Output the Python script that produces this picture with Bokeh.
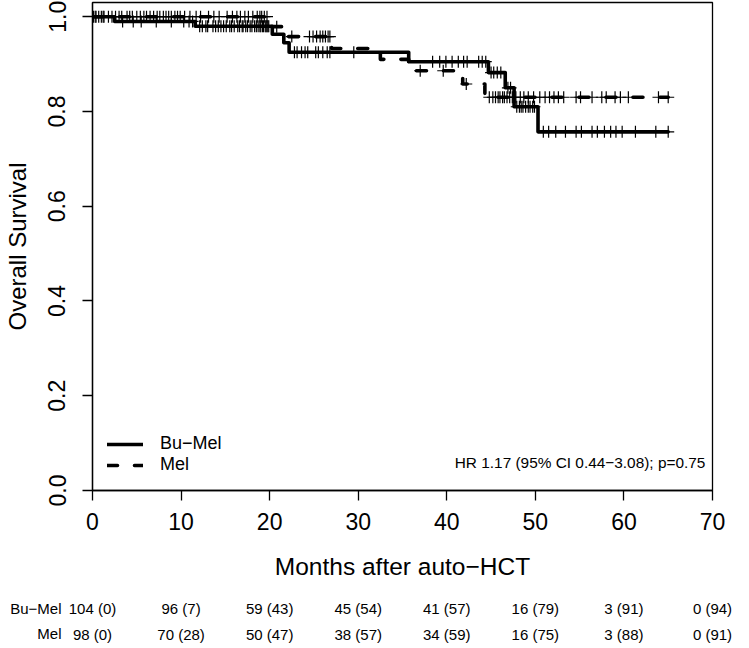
import numpy as np
from bokeh.plotting import figure
from bokeh.layouts import column
from bokeh.models import (FixedTicker, PrintfTickFormatter, Legend, LegendItem,
                          Label, Range1d, LinearAxis)
from bokeh.embed import file_html
from bokeh.resources import INLINE

# ---------------- data ----------------
bumel_event_t = [2.5, 11.6, 20.3, 21.6, 22.2, 35.7, 44.7, 46.6, 47.6, 50.3]
bumel_event_s = [0.990, 0.980, 0.963, 0.945, 0.925, 0.905, 0.882, 0.850, 0.810, 0.757]
bumel_censor_t = [0.3, 1.2, 3.4, 4.6, 5.5, 7.2, 8.9,
                  10.3, 10.9, 11.3, 12.1, 12.4, 12.8, 13.0, 13.6, 13.9, 14.2, 14.5, 14.8,
                  15.1, 15.5, 15.7, 16.0, 16.4, 16.6, 16.9, 17.0, 17.3, 17.5, 17.8, 18.0,
                  18.3, 18.5, 18.7, 18.9, 19.0, 19.2, 19.3, 19.5, 19.6, 19.7, 19.8, 19.9,
                  22.8, 23.1, 23.6, 24.0, 24.3, 25.2, 25.5, 26.0, 26.5, 26.8, 29.5,
                  38.4, 39.2, 39.9,
                  40.6, 41.3, 41.9, 42.3, 43.6, 44.0, 44.4, 45.0, 45.3, 45.7, 46.1, 46.9,
                  47.2, 47.9, 48.2, 48.4, 48.6, 48.9, 49.2, 49.4, 49.7, 49.9,
                  50.9, 51.5, 52.3, 53.4, 54.6, 55.2, 56.4, 57.0, 57.8, 58.5, 59.1, 59.8,
                  61.3, 63.6, 65.0]

mel_event_t = [19.9, 21.4, 27.0, 32.5, 35.7, 41.8, 44.3]
mel_event_s = [0.979, 0.958, 0.933, 0.910, 0.886, 0.858, 0.830]
mel_censor_t = [0.1, 0.4, 0.7, 1.0, 1.3, 1.8, 2.2, 2.6, 3.0, 3.3, 3.9, 4.2, 4.5, 5.0,
                5.4, 5.8, 6.1, 6.5, 6.9, 7.3, 7.6, 8.0, 8.3, 8.6, 8.9, 9.3, 9.6, 9.9,
                10.4, 11.0, 11.7, 12.2, 13.1, 13.7, 14.3, 15.2, 15.8, 16.3, 16.7, 17.2,
                17.6, 18.1, 18.6, 18.9, 19.1, 19.4, 19.7,
                20.8, 22.5, 24.5, 24.9, 25.3, 25.7, 26.0, 26.3, 26.6, 26.8,
                37.0, 39.6,
                42.2, 44.8, 45.2, 45.5, 45.8, 46.0, 46.3, 46.5, 46.8, 47.1, 47.4, 47.8,
                48.3, 48.7, 49.2, 49.8,
                50.5, 51.1, 51.6, 52.1, 52.6, 53.2, 54.6, 55.1, 56.4, 57.5, 58.0, 59.0, 59.6,
                60.5, 63.9, 65.0]

risk_times = [0, 10, 20, 30, 40, 50, 60, 70]
bumel_at_risk = [104, 96, 59, 45, 41, 16, 3, 0]
bumel_censored = [0, 7, 43, 54, 57, 79, 91, 94]
mel_at_risk = [98, 70, 50, 38, 34, 16, 3, 0]
mel_censored = [0, 28, 47, 57, 59, 75, 88, 91]

group_names = ["Bu−Mel", "Mel"]
x_ticks = [0, 10, 20, 30, 40, 50, 60, 70]
y_ticks = [0.0, 0.2, 0.4, 0.6, 0.8, 1.0]
hr_text = "HR 1.17 (95% CI 0.44−3.08); p=0.75"

# ---------------- helpers ----------------
def km_path(ev_t, ev_s, censor_t):
    end = max(censor_t)
    xs = [0.0] + list(ev_t) + [end]
    ys = [1.0] + list(ev_s) + [ev_s[-1]]
    return xs, ys

def surv_at(ev_t, ev_s, t):
    levels = np.array([1.0] + list(ev_s))
    idx = np.searchsorted(np.array(ev_t), np.array(t), side="right")
    return levels[idx]

FONT = "Liberation Sans"
W = 749
H_MAIN = 596
H_TAB = 52
BORDER_L, BORDER_R, BORDER_T = 92, 37, 2
FRAME_H = 488

p = figure(width=W, height=H_MAIN, output_backend="svg", toolbar_location=None,
           x_range=Range1d(0, 70), y_range=Range1d(0.0, 1.030),
           min_border_left=BORDER_L, min_border_right=BORDER_R, min_border_top=BORDER_T,
           min_border_bottom=H_MAIN - BORDER_T - FRAME_H)
p.xgrid.visible = False
p.ygrid.visible = False
p.outline_line_color = "black"
p.outline_line_width = 1.3

for ax in (p.xaxis, p.yaxis):
    ax.axis_line_width = 1.3
    ax.major_tick_line_width = 1.3
    ax.major_tick_in = 0
    ax.major_tick_out = 10
    ax.minor_tick_line_color = None
    ax.major_label_text_font = FONT
    ax.major_label_text_font_size = "23px"
    ax.major_label_text_color = "black"
    ax.axis_label_text_font = FONT
    ax.axis_label_text_font_style = "normal"
    ax.axis_label_text_color = "black"

p.xaxis.ticker = FixedTicker(ticks=x_ticks)
p.yaxis.ticker = FixedTicker(ticks=y_ticks)
p.yaxis.formatter = PrintfTickFormatter(format="%.1f")
p.yaxis.major_label_orientation = "parallel"
p.xaxis.axis_label = "Months after auto−HCT"
p.yaxis.axis_label = "Overall Survival"
p.xaxis.axis_label_text_font_size = "24.5px"
p.yaxis.axis_label_text_font_size = "24px"
p.xaxis.major_label_standoff = 12
p.xaxis.axis_label_standoff = 20
p.yaxis.major_label_standoff = 17
p.yaxis.axis_label_standoff = 15

LW = 3.6
bx, by = km_path(bumel_event_t, bumel_event_s, bumel_censor_t)
mx, my = km_path(mel_event_t, mel_event_s, mel_censor_t)
r_b = p.step(bx, by, mode="after", line_color="black", line_width=LW,
             line_join="round", line_cap="round")
r_m = p.step(mx, my, mode="after", line_color="black", line_width=LW,
             line_dash="10 17", line_join="round", line_cap="round")

p.scatter(bumel_censor_t, surv_at(bumel_event_t, bumel_event_s, bumel_censor_t),
          marker="cross", size=12, line_color="black", line_width=1.2)
p.scatter(mel_censor_t, surv_at(mel_event_t, mel_event_s, mel_censor_t),
          marker="cross", size=12, line_color="black", line_width=1.2)

legend = Legend(items=[LegendItem(label=group_names[0], renderers=[r_b]),
                       LegendItem(label=group_names[1], renderers=[r_m])],
                location=(15, 15), glyph_width=36, glyph_height=20, label_height=20,
                spacing=0, padding=0, margin=0, label_standoff=17,
                border_line_color=None, background_fill_alpha=0,
                label_text_font=FONT, label_text_font_size="18px",
                label_text_color="black")
p.add_layout(legend)

p.add_layout(Label(x=69.2, y=0.06, text=hr_text, text_align="right", text_baseline="middle",
                   text_font=FONT, text_font_size="15.4px", text_color="black"))

# ---------------- risk table: second figure, same month scale ----------------
TAB_TOP, TAB_BOT = 12, 15
t = figure(width=W, height=H_TAB, output_backend="svg", toolbar_location=None,
           x_range=p.x_range, y_range=Range1d(0, 1),
           min_border_left=BORDER_L, min_border_right=BORDER_R,
           min_border_top=TAB_TOP, min_border_bottom=TAB_BOT,
           x_axis_location=None, y_axis_location=None)
t.xgrid.visible = False
t.ygrid.visible = False
t.outline_line_color = None

def table_axis(at_risk, censored):
    ax = LinearAxis(ticker=FixedTicker(ticks=risk_times),
                    major_label_overrides={tm: f"{a} ({c})" for tm, a, c in
                                           zip(risk_times, at_risk, censored)})
    ax.axis_line_color = None
    ax.major_tick_line_color = None
    ax.minor_tick_line_color = None
    ax.major_tick_in = 0
    ax.major_tick_out = 0
    ax.major_label_standoff = -8
    ax.major_label_text_font = FONT
    ax.major_label_text_font_size = "15px"
    ax.major_label_text_color = "black"
    return ax

t.add_layout(table_axis(bumel_at_risk, bumel_censored), "above")
t.add_layout(table_axis(mel_at_risk, mel_censored), "below")

name_axis = LinearAxis(ticker=FixedTicker(ticks=[1, 0]),
                       major_label_overrides={1: group_names[0], 0: group_names[1]})
name_axis.axis_line_color = None
name_axis.major_tick_line_color = None
name_axis.minor_tick_line_color = None
name_axis.major_tick_in = 0
name_axis.major_tick_out = 0
name_axis.major_label_standoff = 31
name_axis.major_label_text_font = FONT
name_axis.major_label_text_font_size = "15px"
name_axis.major_label_text_color = "black"
t.add_layout(name_axis, "left")

layout = column(p, t, spacing=0)
open("out.html", "w").write(file_html(layout, INLINE))
